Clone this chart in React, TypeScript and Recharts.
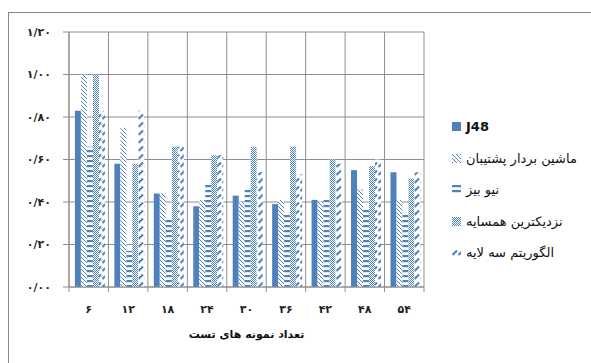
import React from "react";
import { BarChart, Bar, XAxis, YAxis, CartesianGrid } from "recharts";

// test-sample counts (Persian digits) and accuracy per classifier
const categories = ["۶", "۱۲", "۱۸", "۲۴", "۳۰", "۳۶", "۴۲", "۴۸", "۵۴"];
const j48 = [0.83, 0.58, 0.44, 0.38, 0.43, 0.39, 0.41, 0.55, 0.54];
const svm = [1.0, 0.75, 0.44, 0.41, 0.4, 0.41, 0.4, 0.46, 0.41];
const naiveBayes = [0.66, 0.17, 0.32, 0.49, 0.46, 0.35, 0.42, 0.37, 0.35];
const knn = [1.0, 0.58, 0.66, 0.62, 0.66, 0.66, 0.6, 0.57, 0.51];
const mlp = [0.83, 0.83, 0.66, 0.62, 0.54, 0.53, 0.58, 0.6, 0.54];
const yTicks = [0, 0.2, 0.4, 0.6, 0.8, 1.0, 1.2];

const series = [
  { key: "j48", name: "J48", fill: "#4F81BD" },
  { key: "svm", name: "ماشین بردار پشتیبان", fill: "url(#patSvm)" },
  { key: "nb", name: "نیو بیز", fill: "url(#patNb)" },
  { key: "knn", name: "نزدیکترین  همسایه", fill: "url(#patKnn)" },
  { key: "mlp", name: "الگوریتم سه لایه", fill: "url(#patMlp)" },
];

const data = categories.map((c, i) => ({
  cat: c,
  j48: j48[i],
  svm: svm[i],
  nb: naiveBayes[i],
  knn: knn[i],
  mlp: mlp[i],
}));

const W = 591;
const H = 363;
const LEFT = 69;
const RIGHT = 167;
const TOP = 32;
const BOTTOM = 287;
const PLOT_W = W - LEFT - RIGHT;
const BAND = PLOT_W / categories.length;
const BLUE = "#4F81BD";
const GRID = "#8E8E8E";

const faDigits = "۰۱۲۳۴۵۶۷۸۹";
const toFa = (s: string) => s.replace(/\d/g, (d) => faDigits[+d]).replace(".", "/");

function Patterns() {
  return (
    <svg width={0} height={0} style={{ position: "absolute" }}>
      <defs>
        <pattern id="patSvm" width={4} height={4} patternUnits="userSpaceOnUse">
          <rect width={4} height={4} fill="#fff" />
          <path d="M0,0 L4,4 M-1,3 L1,5 M3,-1 L5,1" stroke={BLUE} strokeWidth={1} />
        </pattern>
        <pattern id="patNb" width={4} height={5} patternUnits="userSpaceOnUse">
          <rect width={4} height={5} fill="#fff" />
          <rect y={0} width={4} height={2.2} fill={BLUE} />
        </pattern>
        <pattern id="patKnn" width={2} height={2} patternUnits="userSpaceOnUse">
          <rect width={2} height={2} fill="#fff" />
          <rect x={0} y={0} width={1} height={1} fill={BLUE} />
          <rect x={1} y={1} width={1} height={1} fill={BLUE} />
        </pattern>
        <pattern id="patMlp" width={6} height={8} patternUnits="userSpaceOnUse">
          <rect width={6} height={8} fill="#fff" />
          <path d="M0.5,7 L5,2.5" stroke={BLUE} strokeWidth={2.2} />
        </pattern>
      </defs>
    </svg>
  );
}

// category label plus the boundary tick marks hanging under the axis
const XTick = (props: any) => {
  const { x, payload, index } = props;
  return (
    <g>
      <line x1={x - BAND / 2} x2={x - BAND / 2} y1={BOTTOM} y2={BOTTOM + 5} stroke={GRID} />
      {index === categories.length - 1 && (
        <line x1={x + BAND / 2} x2={x + BAND / 2} y1={BOTTOM} y2={BOTTOM + 5} stroke={GRID} />
      )}
      <text
        x={x}
        y={BOTTOM + 26}
        textAnchor="middle"
        fontSize={11}
        fontWeight="bold"
        fontFamily="DejaVu Sans"
        fill="#222"
      >
        {payload.value}
      </text>
    </g>
  );
};

export default function App() {
  return (
    <div
      style={{
        position: "fixed",
        left: 0,
        top: 0,
        width: W,
        height: H,
        background: "#fff",
        overflow: "hidden",
        fontFamily: "DejaVu Sans",
      }}
    >
      <Patterns />
      <div
        style={{
          position: "absolute",
          left: 8,
          top: 12,
          width: 640,
          height: 420,
          border: "1px solid #8a8a8a",
        }}
      />
      <BarChart
        width={W}
        height={H}
        data={data}
        margin={{ top: TOP, right: RIGHT, bottom: H - BOTTOM - 30, left: 0 }}
        barCategoryGap="15%"
        barGap={0}
      >
        <CartesianGrid
          stroke={GRID}
          verticalCoordinatesGenerator={() =>
            categories.map((_, i) => LEFT + i * BAND).concat([LEFT + PLOT_W])
          }
        />
        <XAxis
          dataKey="cat"
          interval={0}
          height={30}
          axisLine={{ stroke: GRID }}
          tickLine={false}
          tick={<XTick />}
        />
        <YAxis
          width={LEFT}
          domain={[0, 1.2]}
          ticks={yTicks}
          interval={0}
          axisLine={{ stroke: GRID }}
          tickLine={{ stroke: GRID }}
          tickSize={6}
          tickMargin={12}
          tickFormatter={(v: number) => toFa(v.toFixed(2))}
          tick={{ fontSize: 11, fontWeight: "bold", fill: "#222", fontFamily: "DejaVu Sans" }}
        />
        {series.map((s) => (
          <Bar key={s.key} dataKey={s.key} fill={s.fill} isAnimationActive={false} />
        ))}
      </BarChart>
      <div
        style={{
          position: "absolute",
          left: LEFT,
          width: PLOT_W,
          top: 328,
          textAlign: "center",
          fontSize: 11,
          fontWeight: "bold",
          color: "#111",
        }}
        dir="rtl"
      >
        تعداد نمونه های تست
      </div>
      <div style={{ position: "absolute", left: 452, top: 111 }}>
        {series.map((s, i) => (
          <div key={s.key} style={{ display: "flex", alignItems: "center", height: 31.5 }}>
            <svg width={9} height={9} style={{ marginRight: 5 }}>
              <rect width={9} height={9} fill={s.fill} />
            </svg>
            <span
              dir={i === 0 ? "ltr" : "rtl"}
              style={{ fontSize: 13, fontWeight: i === 0 ? "bold" : "normal", color: "#111" }}
            >
              {s.name}
            </span>
          </div>
        ))}
      </div>
    </div>
  );
}
